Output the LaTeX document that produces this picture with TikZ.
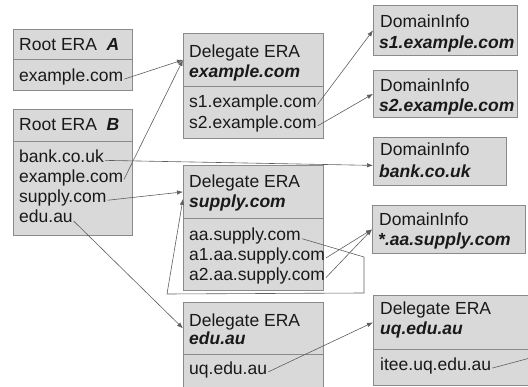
\documentclass[tikz,border=0pt]{standalone}
\usepackage{fontspec}
\setmainfont{Liberation Sans}
\usetikzlibrary{arrows.meta}
\definecolor{boxfill}{HTML}{D9D9D9}
\definecolor{boxline}{HTML}{8A8A8A}
\definecolor{connline}{HTML}{5E5E5E}
\newcommand{\bi}[1]{\textbf{\textit{#1}}}
\begin{document}
\begin{tikzpicture}[x=1pt,y=-1pt,
  box/.style={draw=boxline,fill=boxfill,line width=0.8pt,inner sep=0pt,anchor=north west},
  txt/.style={anchor=base west,inner sep=0pt,font=\fontsize{17.5}{20}\selectfont,text=black!90},
  conn/.style={draw=connline,line width=0.6pt,shorten <=1pt,-{Latex[length=6pt,width=4.5pt]}}]
\useasboundingbox (0,0) rectangle (528,387);
% Root ERA A
\node[box,minimum width=119pt,minimum height=30pt] (aH) at (13,29) {};
\node[box,minimum width=119pt,minimum height=31pt] (aB) at (13,59) {};
\node[txt] (aT) at (19,51) {Root ERA~ \bi{A}};
\node[txt] (aEx) at (19,82) {example.com};
% Root ERA B
\node[box,minimum width=119pt,minimum height=32pt] (bH) at (13,109) {};
\node[box,minimum width=119pt,minimum height=94pt] (bB) at (13,141) {};
\node[txt] (bT) at (19,131) {Root ERA~ \bi{B}};
\node[txt] (bBank) at (19,163) {bank.co.uk};
\node[txt] (bEx) at (19,183) {example.com};
\node[txt] (bSup) at (19,203) {supply.com};
\node[txt] (bEdu) at (19,223) {edu.au};
% Delegate ERA example.com
\node[box,minimum width=140pt,minimum height=53pt] (eH) at (183,33) {};
\node[box,minimum width=140pt,minimum height=52pt] (eB) at (183,86) {};
\node[txt] (eT1) at (189,58) {Delegate ERA};
\node[txt] (eT2) at (189,78) {\bi{example.com}};
\node[txt] (s1) at (189,108) {s1.example.com};
\node[txt] (s2) at (189,129) {s2.example.com};
% DomainInfo s1
\node[box,minimum width=144pt,minimum height=50pt] (d1) at (373,5) {};
\node[txt] (d1T1) at (380,28) {DomainInfo};
\node[txt] (d1T2) at (379,49) {\bi{s1.example.com}};
% DomainInfo s2
\node[box,minimum width=144pt,minimum height=47pt] (d2) at (373,70) {};
\node[txt] (d2T1) at (380,92) {DomainInfo};
\node[txt] (d2T2) at (379,112) {\bi{s2.example.com}};
% DomainInfo bank
\node[box,minimum width=133pt,minimum height=48pt] (db) at (373,137) {};
\node[txt] (dbT1) at (380,156) {DomainInfo};
\node[txt] (dbT2) at (379,178) {\bi{bank.co.uk}};
% DomainInfo *.aa
\node[box,minimum width=153pt,minimum height=48pt] (da) at (372,205) {};
\node[txt] (daT1) at (379,226) {DomainInfo};
\node[txt] (daT2) at (378,246) {\bi{*.aa.supply.com}};
% Delegate ERA supply.com
\node[box,minimum width=140pt,minimum height=53pt] (sH) at (183,165) {};
\node[box,minimum width=140pt,minimum height=72pt] (sB) at (183,218) {};
\node[txt] (sT1) at (189,188) {Delegate ERA};
\node[txt] (sT2) at (189,208) {\bi{supply.com}};
\node[txt] (aa) at (189,241) {aa.supply.com};
\node[txt] (a1) at (189,261) {a1.aa.supply.com};
\node[txt] (a2) at (189,281) {a2.aa.supply.com};
% Delegate ERA edu.au
\node[box,minimum width=140pt,minimum height=52pt] (uH) at (183,302) {};
\node[box,minimum width=140pt,minimum height=45pt] (uB) at (183,354) {};
\node[txt] (uT1) at (189,327) {Delegate ERA};
\node[txt] (uT2) at (189,345) {\bi{edu.au}};
\node[txt] (uq) at (189,375) {uq.edu.au};
% Delegate ERA uq.edu.au
\node[box,minimum width=170pt,minimum height=54pt] (qH) at (373,295) {};
\node[box,minimum width=170pt,minimum height=36pt] (qB) at (373,349) {};
\node[txt] (qT1) at (380,315) {Delegate ERA};
\node[txt] (qT2) at (380,335) {\bi{uq.edu.au}};
\node[txt] (itee) at (380,371) {itee.uq.edu.au};
% loop coordinates
\coordinate (lp1) at (364,257);
\coordinate (lp2) at (364,293);
\coordinate (lp3) at (167,294);
\coordinate (offq) at (545,354);
% connectors
\draw[conn] (aEx.mid east) -- (eH.west);
\draw[conn] (bEx.mid east) -- (eH.west);
\draw[conn] (bBank.mid east) -- ([yshift=-4pt]db.west);
\draw[conn] (bSup.mid east) -- (sH.west);
\draw[conn] (bEdu.mid east) -- (uH.west);
\draw[conn] (s1.mid east) -- (d1.west);
\draw[conn] (s2.mid east) -- (d2.west);
\draw[conn] (a1.mid east) -- (da.west);
\draw[conn] (a2.mid east) -- (da.west);
\draw[conn] (aa.mid east) -- (lp1) -- (lp2) -- (lp3) -- ([yshift=-7pt]sH.west);
\draw[conn] (uq.mid east) -- (qH.west);
\draw[conn] (itee.mid east) -- (offq);
\end{tikzpicture}
\end{document}
